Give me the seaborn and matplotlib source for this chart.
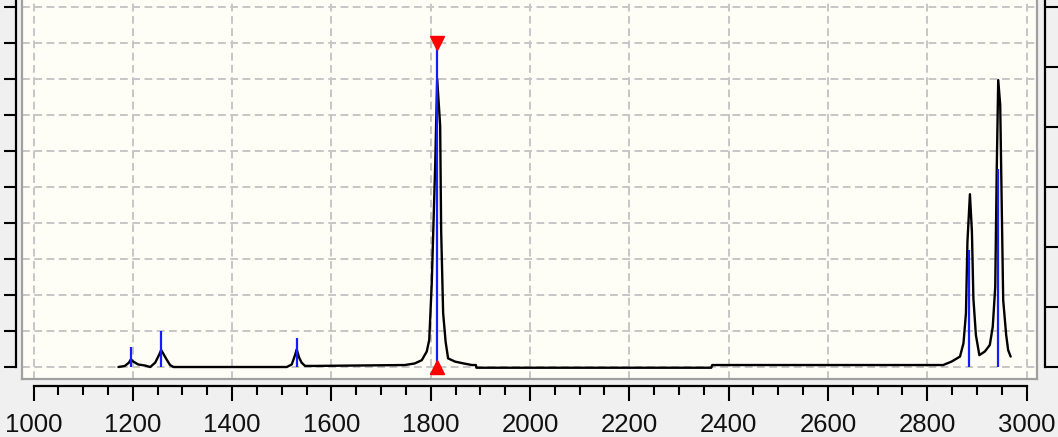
import numpy as np
import pandas as pd
import seaborn as sns
import matplotlib.pyplot as plt

# spectrum trace (wavenumber, intensity)
wavenumber = [1171, 1184, 1192, 1196, 1201, 1211, 1225, 1235, 1245, 1253, 1257, 1261,
              1268, 1275, 1282, 1510, 1520, 1527, 1530, 1535, 1540, 1547, 1567, 1748,
              1768, 1782, 1792, 1797, 1802, 1809, 1813, 1819, 1821, 1825, 1830, 1835,
              1849, 1866, 1883, 1891, 1892, 2365, 2367, 2832, 2849, 2866, 2873, 2878,
              2881, 2886, 2890, 2893, 2898, 2905, 2916, 2926, 2932, 2937, 2940, 2943,
              2947, 2950, 2953, 2959, 2963, 2968]
intensity = [0.0, 0.3, 1.2, 2.1, 1.5, 0.7, 0.4, 0.0, 1.2, 3.4, 4.7, 3.8,
             2.1, 0.55, 0.0, 0.0, 0.7, 3.4, 4.9, 2.6, 1.2, 0.3, 0.3, 0.55,
             1.0, 1.9, 4.3, 7.5, 23, 56, 80, 67, 38, 15, 7, 2.4,
             1.5, 1.0, 0.55, 0.55, -0.2, -0.2, 0.55, 0.55, 1.5, 2.9, 6.6, 14.9,
             34.8, 48, 37.6, 19, 8.9, 3.3, 4.3, 6.1, 11.2, 22.3, 54.7, 79.7,
             72.8, 45.4, 18.6, 8.9, 4.7, 2.9]

# picked peaks (blue sticks)
peak_pos = [1196, 1256, 1530, 1812, 2884, 2942]
peak_height = [5.6, 10, 8, 90, 32.5, 55]

# selected peak (red markers)
sel_pos = 1812
sel_height = 90

x_major = list(range(1000, 3001, 200))
x_minor = list(range(1000, 3001, 50))
y_grid = list(range(0, 101, 10))
y_right = [0, 100 / 6, 200 / 6, 50, 400 / 6, 500 / 6, 100]

xlim = (976.8, 3021.1)
ylim = (-3.33, 101.94)

df = pd.DataFrame({"wavenumber": wavenumber, "intensity": intensity})

sns.set_style("white")
plt.rcParams["font.family"] = ["Liberation Sans", "DejaVu Sans"]

W, H = 1058, 437
fig = plt.figure(figsize=(W / 100, H / 100), dpi=100, facecolor="#f0f0f0")

# main plot area
ax = fig.add_axes([22 / W, (H - 379) / H, 1015 / W, 379 / H])
ax.set_facecolor("#fefef6")
sns.lineplot(data=df, x="wavenumber", y="intensity", sort=False, estimator=None,
             color="black", lw=1.7, ax=ax, zorder=3)
ax.vlines(peak_pos, 0, peak_height, color="#1a1aff", lw=1.6, zorder=4)
ax.plot([sel_pos], [sel_height], marker="v", color="red", ms=9.5, ls="none",
        zorder=5, clip_on=False)
ax.plot([sel_pos], [0], marker="^", color="red", ms=9.5, ls="none",
        zorder=5, clip_on=False)
ax.set_xlim(*xlim)
ax.set_ylim(*ylim)
ax.set_xticks(x_major)
ax.set_yticks(y_grid)
ax.grid(True, ls=(0, (4, 2.3)), color="#c6c6c6", lw=1.4)
ax.tick_params(length=0, labelbottom=False, labelleft=False)
ax.set_xlabel("")
ax.set_ylabel("")
for s in ["left", "bottom", "right"]:
    ax.spines[s].set_color("#a0a0a0")
    ax.spines[s].set_linewidth(1.6)
ax.spines["top"].set_visible(False)

# x axis strip below the plot
axx = fig.add_axes([22 / W, (H - 386) / H, 1015 / W, 0.001])
axx.patch.set_visible(False)
axx.set_xlim(*xlim)
axx.set_xticks(x_major)
axx.set_xticks(x_minor, minor=True)
axx.set_xticklabels([str(v) for v in x_major])
axx.set_yticks([])
for s in ["left", "right", "top"]:
    axx.spines[s].set_visible(False)
axx.spines["bottom"].set_bounds(1000, 3000)
axx.spines["bottom"].set_linewidth(1.6)
axx.spines["bottom"].set_color("black")
axx.tick_params(axis="x", which="major", bottom=True, direction="out", length=11,
                width=1.5, color="black", pad=8.5, labelsize=18.5, labelcolor="#111111")
axx.tick_params(axis="x", which="minor", bottom=True, direction="out", length=6.5,
                width=1.5, color="black")

# left tick strip
axl = fig.add_axes([15.5 / W, (H - 379) / H, 0.001, 379 / H])
axl.patch.set_visible(False)
axl.set_ylim(*ylim)
axl.set_yticks(y_grid)
axl.set_xticks([])
for s in ["right", "bottom", "top"]:
    axl.spines[s].set_visible(False)
axl.spines["left"].set_bounds(0, ylim[1])
axl.spines["left"].set_linewidth(1.6)
axl.spines["left"].set_color("black")
axl.tick_params(axis="y", left=True, direction="out", length=9, width=1.5,
                color="black", labelleft=False)

# right tick strip
axr = fig.add_axes([1044.5 / W, (H - 379) / H, 0.001, 379 / H])
axr.patch.set_visible(False)
axr.set_ylim(*ylim)
axr.set_yticks(y_right)
axr.set_xticks([])
for s in ["right", "bottom", "top"]:
    axr.spines[s].set_visible(False)
axr.spines["left"].set_bounds(0, ylim[1])
axr.spines["left"].set_linewidth(1.6)
axr.spines["left"].set_color("black")
axr.tick_params(axis="y", left=True, direction="in", length=12, width=1.5,
                color="black", labelleft=False)

fig.savefig("out.png", dpi=100, facecolor=fig.get_facecolor())
